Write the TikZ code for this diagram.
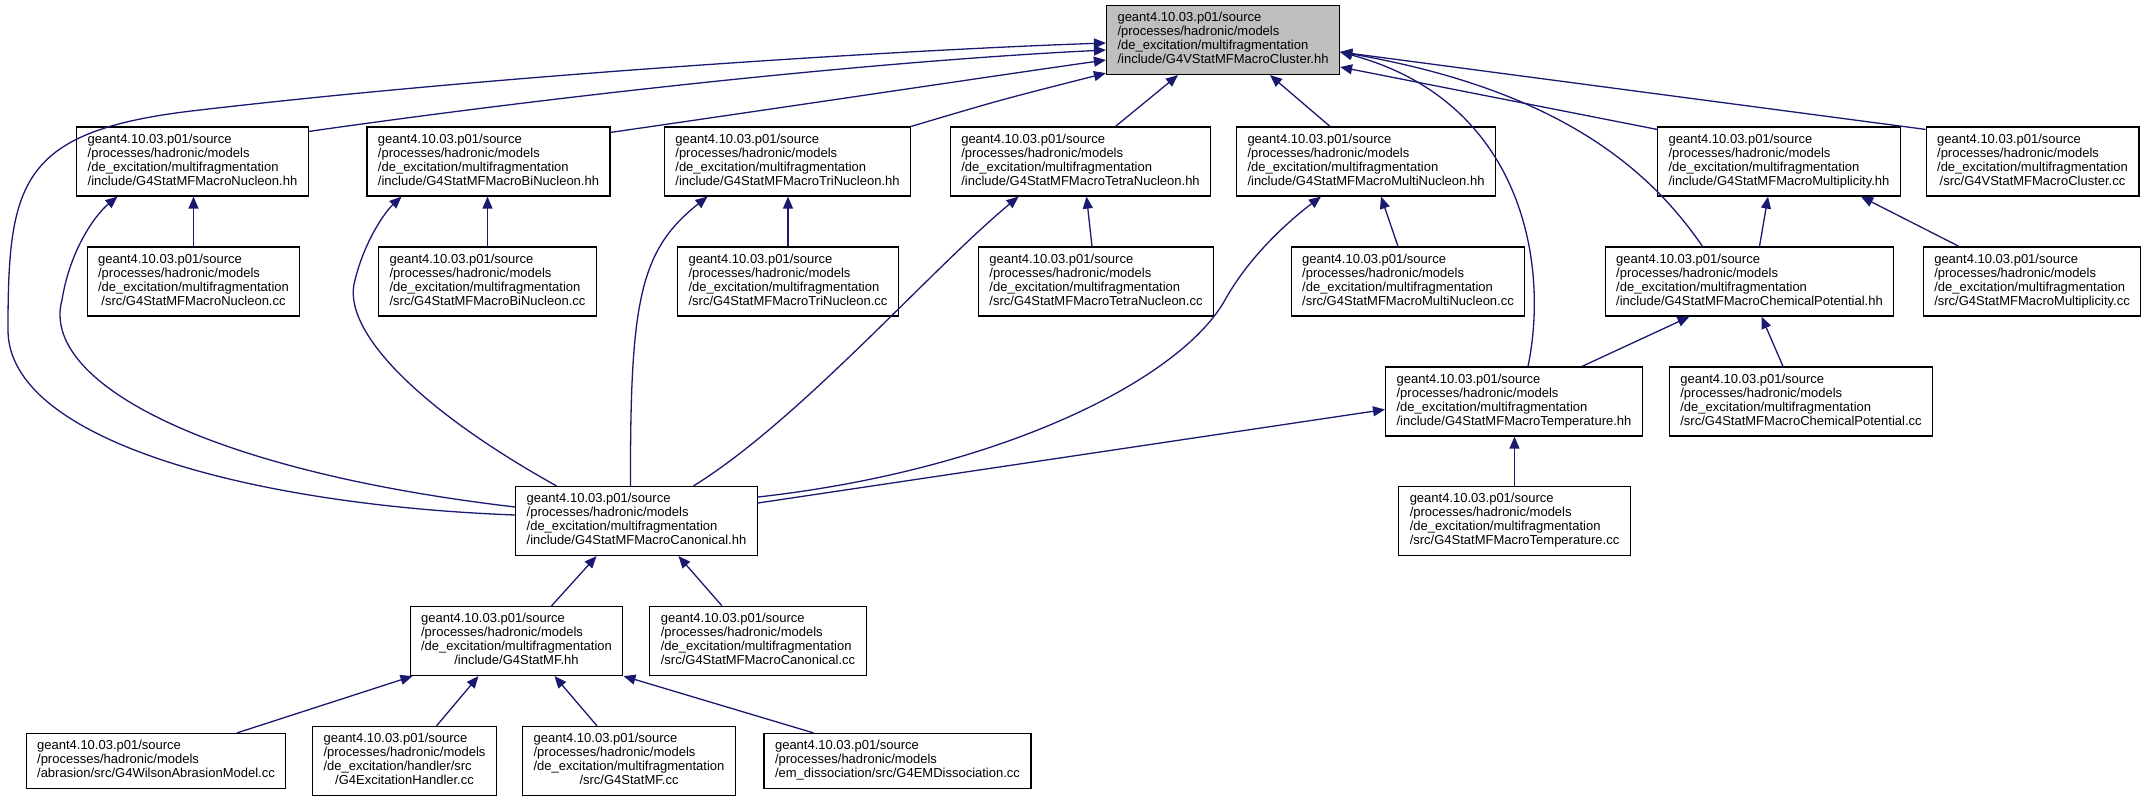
\documentclass[tikz,border=0pt]{standalone}
\usepackage{fontspec}
\setmainfont{Liberation Sans}
\usepackage{tikz}
\usepackage{xcolor}
\definecolor{midnight}{RGB}{25,25,112}
\definecolor{rootgrey}{RGB}{191,191,191}
\usetikzlibrary{arrows.meta,calc}

\newcommand{\flabel}[2]{\begin{tabular}{@{}l@{}}#1\\\multicolumn{1}{@{}c@{}}{#2}\end{tabular}}
\newcommand{\mfdir}{geant4.10.03.p01/source\\/processes/hadronic/models\\/de\_excitation/multifragmentation}
\newcommand{\hadr}{geant4.10.03.p01/source\\/processes/hadronic/models}

\begin{document}
\begin{tikzpicture}[x=1pt,y=-1pt,
	filebox/.style={
	draw=black,           % black border
	line width=1.2pt,     % border thickness
	fill=white,
	text=black,
	rectangle,
	inner xsep=11pt,      % padding
	inner ysep=6.5pt,
	font=\fontsize{13}{14}\selectfont
	},
	rootbox/.style={filebox, fill=rootgrey},
	dep/.style={draw=midnight, line width=1.3pt, -{Triangle[length=12pt,width=10pt]}}
	]
	\useasboundingbox (0,0) rectangle (2149,803);

	% top
	\node[rootbox] (root) at (1223,40) {\flabel{\mfdir}{/include/G4VStatMFMacroCluster.hh}};

	% headers
	\node[filebox] (nuc_hh) at (192.5,161.5) {\flabel{\mfdir}{/include/G4StatMFMacroNucleon.hh}};
	\node[filebox] (bi_hh) at (488.5,161.5) {\flabel{\mfdir}{/include/G4StatMFMacroBiNucleon.hh}};
	\node[filebox] (tri_hh) at (787.5,161.5) {\flabel{\mfdir}{/include/G4StatMFMacroTriNucleon.hh}};
	\node[filebox] (tetra_hh) at (1080.5,161.5) {\flabel{\mfdir}{/include/G4StatMFMacroTetraNucleon.hh}};
	\node[filebox] (multi_hh) at (1366,161.5) {\flabel{\mfdir}{/include/G4StatMFMacroMultiNucleon.hh}};
	\node[filebox] (mult_hh) at (1779,161.5) {\flabel{\mfdir}{/include/G4StatMFMacroMultiplicity.hh}};
	\node[filebox] (vcl_cc) at (2032.5,161.5) {\flabel{\mfdir}{/src/G4VStatMFMacroCluster.cc}};

	\node[filebox] (nuc_cc) at (193.5,281.5) {\flabel{\mfdir}{/src/G4StatMFMacroNucleon.cc}};
	\node[filebox] (bi_cc) at (487.5,281.5) {\flabel{\mfdir}{/src/G4StatMFMacroBiNucleon.cc}};
	\node[filebox] (tri_cc) at (788,281.5) {\flabel{\mfdir}{/src/G4StatMFMacroTriNucleon.cc}};
	\node[filebox] (tetra_cc) at (1096,281.5) {\flabel{\mfdir}{/src/G4StatMFMacroTetraNucleon.cc}};
	\node[filebox] (multi_cc) at (1408,281.5) {\flabel{\mfdir}{/src/G4StatMFMacroMultiNucleon.cc}};
	\node[filebox] (chem_hh) at (1749.5,281.5) {\flabel{\mfdir}{/include/G4StatMFMacroChemicalPotential.hh}};
	\node[filebox] (mult_cc) at (2032,281.5) {\flabel{\mfdir}{/src/G4StatMFMacroMultiplicity.cc}};

	\node[filebox] (temp_hh) at (1514,401.5) {\flabel{\mfdir}{/include/G4StatMFMacroTemperature.hh}};
	\node[filebox] (chem_cc) at (1801,401.5) {\flabel{\mfdir}{/src/G4StatMFMacroChemicalPotential.cc}};

	\node[filebox] (canon_hh) at (636.5,521) {\flabel{\mfdir}{/include/G4StatMFMacroCanonical.hh}};
	\node[filebox] (temp_cc) at (1514.5,521) {\flabel{\mfdir}{/src/G4StatMFMacroTemperature.cc}};

	\node[filebox] (statmf_hh) at (516.5,641) {\flabel{\mfdir}{/include/G4StatMF.hh}};
	\node[filebox] (canon_cc) at (758,641) {\flabel{\mfdir}{/src/G4StatMFMacroCanonical.cc}};

	% sources at the bottom
	\node[filebox] (wilson) at (156,761) {\flabel{\hadr}{/abrasion/src/G4WilsonAbrasionModel.cc}};
	\node[filebox] (handler) at (404.5,761) {\flabel{\hadr\\/de\_excitation/handler/src}{/G4ExcitationHandler.cc}};
	\node[filebox] (statmf_cc) at (629,761) {\flabel{\mfdir}{/src/G4StatMF.cc}};
	\node[filebox] (emdiss) at (897.5,761) {\flabel{\hadr}{/em\_dissociation/src/G4EMDissociation.cc}};

	% into the cluster header
	\draw[dep] ($(canon_hh.west)+(0,-6)$) .. controls (250,505) and (8,440) .. (8,330)
		.. controls (8,180) and (20,130) .. (200,110) .. controls (500,75) and (900,50) .. ($(root.west)+(0,3)$);
	\draw[dep] ($(nuc_hh.north east)+(0,5)$) .. controls (600,90) and (900,60) .. ($(root.west)+(0,10)$);
	\draw[dep] ($(bi_hh.north east)+(0,6)$) .. controls (800,105) and (1000,75) .. ($(root.west)+(0,20)$);
	\draw[dep] (tri_hh.north east) .. controls (1000,100) .. ($(root.south west)+(0,-2)$);
	\draw[dep] ($(tetra_hh.north)+(35,0)$) -- ($(root.south)+(-45,0)$);
	\draw[dep] ($(multi_hh.north)+(-36,0)$) -- ($(root.south)+(47,0)$);
	\draw[dep] ($(mult_hh.north west)+(0,3)$) -- ($(root.east)+(0,27)$);
	\draw[dep] ($(vcl_cc.north west)+(0,3)$) -- ($(root.east)+(0,12)$);
	\draw[dep] ($(temp_hh.north)+(14,0)$) .. controls (1550,260) and (1520,100) .. ($(root.east)+(0,12)$);
	\draw[dep] ($(chem_hh.north)+(-47,0)$) .. controls (1650,170) and (1560,90) .. ($(root.east)+(0,12)$);

	% sources to their headers
	\draw[dep] (nuc_cc.north) -- (nuc_cc.north |- nuc_hh.south);
	\draw[dep] (bi_cc.north) -- (bi_cc.north |- bi_hh.south);
	\draw[dep] (tri_cc.north) -- (tri_cc.north |- tri_hh.south);
	\draw[dep] ($(tetra_cc.north)+(-4,0)$) -- ($(tetra_hh.south)+(6,0)$);
	\draw[dep] ($(multi_cc.north)+(-10,0)$) -- ($(multi_hh.south)+(15,0)$);
	\draw[dep] ($(chem_hh.north)+(10,0)$) -- ($(mult_hh.south)+(-11,0)$);
	\draw[dep] ($(mult_cc.north)+(-73,0)$) -- ($(mult_hh.south)+(82,0)$);
	\draw[dep] ($(temp_hh.north)+(68,0)$) -- ($(chem_hh.south)+(-60,0)$);
	\draw[dep] ($(chem_cc.north)+(-18,0)$) -- ($(chem_hh.south)+(12,0)$);
	\draw[dep] (temp_cc.north) -- (temp_cc.north |- temp_hh.south);

	% canonical header
	\draw[dep] ($(canon_hh.west)+(0,-14)$) .. controls (200,470) and (40,380) .. (62,300)
		.. controls (70,250) and (95,215) .. ($(nuc_hh.south)+(-75,0)$);
	\draw[dep] ($(canon_hh.north)+(-80,0)$) .. controls (420,410) and (340,330) .. (355,280)
		.. controls (365,240) and (385,212) .. ($(bi_hh.south)+(-87,0)$);
	\draw[dep] ($(canon_hh.north)+(-6,0)$) .. controls (630,300) and (640,250) .. ($(tri_hh.south)+(-80,0)$);
	\draw[dep] ($(canon_hh.north)+(57,0)$) .. controls (800,420) and (930,270) .. ($(tetra_hh.south)+(-62,0)$);
	\draw[dep] ($(canon_hh.east)+(0,-24)$) .. controls (1000,470) and (1180,380) .. (1225,300)
		.. controls (1250,255) and (1290,220) .. ($(multi_hh.south)+(-45,0)$);
	\draw[dep] ($(canon_hh.east)+(0,-18)$) -- ($(temp_hh.west)+(0,8)$);
	\draw[dep] ($(statmf_hh.north)+(35,0)$) -- ($(canon_hh.south)+(-40,0)$);
	\draw[dep] ($(canon_cc.north)+(-36,0)$) -- ($(canon_hh.south)+(42,0)$);

	% G4StatMF.hh
	\draw[dep] ($(wilson.north)+(81,0)$) -- ($(statmf_hh.south west)+(3,0)$);
	\draw[dep] ($(handler.north)+(32,0)$) -- ($(statmf_hh.south)+(-38,0)$);
	\draw[dep] ($(statmf_cc.north)+(-32,0)$) -- ($(statmf_hh.south)+(38,0)$);
	\draw[dep] ($(emdiss.north)+(-84,0)$) -- (statmf_hh.south east);
\end{tikzpicture}
\end{document}
